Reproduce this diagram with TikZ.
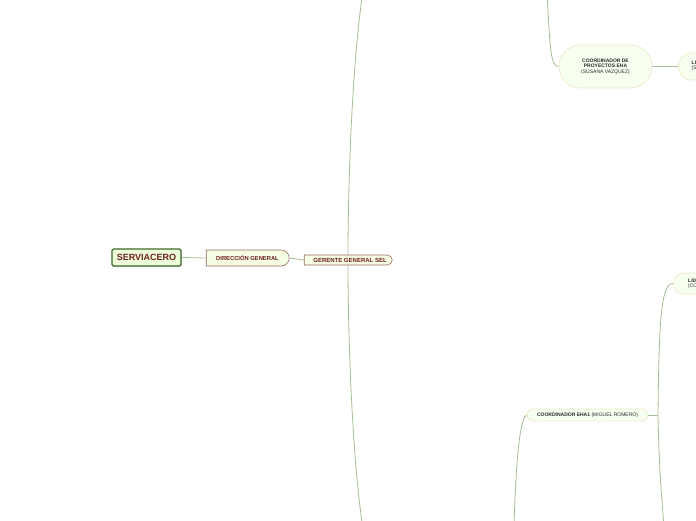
\documentclass[tikz,border=0pt]{standalone}
\usepackage{fontspec}
\setmainfont{Liberation Sans}
\usetikzlibrary{shapes.misc,backgrounds,shadows}
\definecolor{rootborder}{HTML}{3F6B2A}
\definecolor{rootfill}{HTML}{EDFFDB}
\definecolor{darkred}{HTML}{6E1E1E}
\definecolor{lvlborder}{HTML}{9A6A66}
\definecolor{lvlfill}{HTML}{F5FDE2}
\definecolor{pillborder}{HTML}{EEE8C6}
\definecolor{pillfill}{HTML}{F7FFF0}
\definecolor{pilltext}{HTML}{2A2A2A}
\definecolor{conncol}{HTML}{A3BD95}
\tikzset{
  rootbox/.style={draw=rootborder, line width=1.2pt, fill=rootfill, rounded corners=1.5pt,
    text=darkred, font=\bfseries\fontsize{9}{10}\selectfont, inner sep=0pt,
    drop shadow={shadow xshift=0.8pt, shadow yshift=-0.8pt, opacity=0.35}},
  lvlbox/.style={rounded rectangle, rounded rectangle west arc=none, draw=lvlborder,
    line width=0.6pt, fill=lvlfill, text=darkred, inner sep=0pt},
  pill/.style={rounded rectangle, draw=pillborder, line width=0.7pt, fill=pillfill,
    text=pilltext, inner sep=0pt, align=center},
  conn/.style={draw=conncol, line width=0.8pt},
  tiny/.style={font=\fontsize{5}{5.5}\selectfont}
}
\begin{document}
\begin{tikzpicture}[x=1pt,y=-1pt]
\useasboundingbox (0,0) rectangle (696,520);
\clip (0,0) rectangle (696,520);

\node[rootbox, minimum width=69pt, minimum height=17pt] (serv) at (146.5,257.5) {SERVIACERO};
\node[lvlbox, minimum width=83pt, minimum height=16pt, font=\bfseries\fontsize{5.8}{6.5}\selectfont] (dir) at (247.5,258) {DIRECCIÓN GENERAL\hspace{8pt}};
\node[lvlbox, minimum width=88pt, minimum height=10pt, font=\bfseries\fontsize{6}{6.5}\selectfont] (ger) at (348,260) {\hspace{4pt}GERENTE GENERAL SEL};

\node[pill, tiny, minimum width=93pt, minimum height=43pt] (c1) at (605.5,66.5)
  {\textbf{COORDINADOR DE}\\\textbf{PROYECTOS EHA}\\(SUSANA VAZQUEZ)};
\node[pill, minimum width=60pt, minimum height=27pt, anchor=west] (l1) at (678,66.5) {};
\node[tiny, text=pilltext, anchor=west, align=left, inner sep=0pt] (l1t) at (691.5,66)
  {\textbf{LI}\\(S};

\node[pill, minimum width=60pt, minimum height=21pt, anchor=west] (l2) at (673,283.5) {};
\node[tiny, text=pilltext, anchor=west, align=left, inner sep=0pt] (l2t) at (688,284)
  {\textbf{LIDER}\\(CO};

\node[pill, tiny, minimum width=121pt, minimum height=12pt] (e1) at (587.5,415)
  {\textbf{COORDINADOR EHA1} (MIGUEL ROMERO)};

\coordinate (gtop) at (363,-8);
\coordinate (gbot) at (363,528);
\coordinate (ctop) at (547,-8);
\coordinate (ej) at (658,415);
\coordinate (ebot) at (664,528);
\coordinate (eleft) at (514,528);

\begin{pgfonlayer}{background}
\draw[conn] (serv.east) -- (dir.west);
\draw[conn] (dir.east) -- (ger.west);
\draw[conn] (ger.center) .. controls (348,150) and (355,40) .. (gtop);
\draw[conn] (ger.center) .. controls (348,370) and (355,480) .. (gbot);
\draw[conn] (ctop) .. controls (550,45) and (550,66.5) .. (c1.west);
\draw[conn] (c1.east) -- (l1.west);
\draw[conn] (e1.east) -- (ej);
\draw[conn] (ej) .. controls (659,320) and (661,283.5) .. (l2.west);
\draw[conn] (ej) .. controls (659,470) and (662,500) .. (ebot);
\draw[conn] (e1.west) .. controls (521,417) and (516,450) .. (eleft);
\end{pgfonlayer}
\end{tikzpicture}
\end{document}
